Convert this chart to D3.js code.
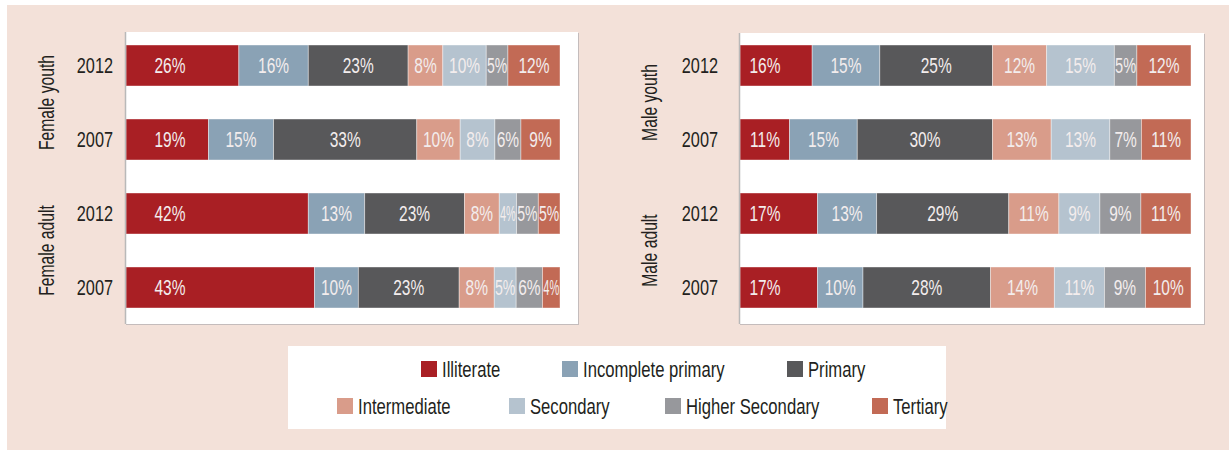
<!DOCTYPE html>
<html>
<head>
<meta charset="utf-8">
<script src="https://cdn.jsdelivr.net/npm/d3@7"></script>
<style>
  html, body { margin: 0; padding: 0; background: #ffffff; }
  svg { display: block; }
  text { font-family: "Liberation Sans", Arial, sans-serif; }
</style>
</head>
<body>
<svg id="chart" width="1229" height="451"></svg>
<script>
// ---------- DATA ----------
const categories = ["Illiterate", "Incomplete primary", "Primary", "Intermediate", "Secondary", "Higher Secondary", "Tertiary"];
const colors = ["#a91f24", "#8aa2b5", "#58585a", "#d99c8a", "#b5c3cf", "#97989c", "#c26a55"];

const years = ["2012", "2007"];
const femaleGroups = ["Female youth", "Female adult"];
const maleGroups = ["Male youth", "Male adult"];

const femaleYouth2012 = [26, 16, 23, 8, 10, 5, 12];
const femaleYouth2007 = [19, 15, 33, 10, 8, 6, 9];
const femaleAdult2012 = [42, 13, 23, 8, 4, 5, 5];
const femaleAdult2007 = [43, 10, 23, 8, 5, 6, 4];

const maleYouth2012 = [16, 15, 25, 12, 15, 5, 12];
const maleYouth2007 = [11, 15, 30, 13, 13, 7, 11];
const maleAdult2012 = [17, 13, 29, 11, 9, 9, 11];
const maleAdult2007 = [17, 10, 28, 14, 11, 9, 10];

// ---------- DRAW ----------
const svg = d3.select("#chart");

function condense(sel, f, maxW) {
  sel.each(function (d) {
    const L = this.getComputedTextLength();
    let w = L * f;
    if (maxW) w = Math.min(w, maxW(d));
    this.setAttribute("textLength", w);
    this.setAttribute("lengthAdjust", "spacingAndGlyphs");
  });
}

// outer pink background
svg.append("rect").attr("x", 7).attr("y", 5).attr("width", 1222).attr("height", 445).attr("fill", "#f3e1d9");

function buildRows(groups, sets) {
  const rows = [];
  groups.forEach((g, gi) => {
    years.forEach((y, yi) => {
      rows.push({ id: g + "|" + y, group: g, year: y, values: sets[gi * 2 + yi] });
    });
  });
  return rows;
}

const femaleRows = buildRows(femaleGroups, [femaleYouth2012, femaleYouth2007, femaleAdult2012, femaleAdult2007]);
const maleRows = buildRows(maleGroups, [maleYouth2012, maleYouth2007, maleAdult2012, maleAdult2007]);

function panel(rows, cfg) {
  const g = svg.append("g");
  // shadow + white panel
  g.append("rect").attr("x", cfg.px0 + 1).attr("y", cfg.py0 + 1).attr("width", cfg.px1 - cfg.px0).attr("height", cfg.py1 - cfg.py0).attr("fill", "#c4bcbc");
  g.append("rect").attr("x", cfg.px0).attr("y", cfg.py0).attr("width", cfg.px1 - cfg.px0).attr("height", cfg.py1 - cfg.py0).attr("fill", "#ffffff");

  const x = d3.scaleLinear().domain([0, 1]).range([cfg.x0, cfg.x1]);
  const y = d3.scaleBand().domain(rows.map(r => r.id)).range([28.5, 324.5]).paddingInner(0.446).paddingOuter(0.223);

  const keys = d3.range(categories.length);
  const stack = d3.stack().keys(keys).value((d, k) => d.values[k]).offset(d3.stackOffsetExpand);
  const series = stack(rows);

  series.forEach((s, si) => {
    const sg = g.append("g");
    sg.selectAll("rect").data(s).join("rect")
      .attr("x", d => x(d[0]))
      .attr("y", d => y(d.data.id))
      .attr("width", d => x(d[1]) - x(d[0]))
      .attr("height", y.bandwidth())
      .attr("fill", colors[si])
      .attr("stroke", "#ffffff")
      .attr("stroke-opacity", 0.5)
      .attr("stroke-width", 0.8);
  });
  series.forEach((s, si) => {
    const sg = g.append("g");
    sg.selectAll("text").data(s).join("text")
      .attr("x", d => si === 0 ? x(0) + cfg.firstLabelOffset : (x(d[0]) + x(d[1])) / 2)
      .attr("y", d => y(d.data.id) + y.bandwidth() / 2)
      .attr("dy", "0.36em")
      .attr("text-anchor", "middle")
      .attr("font-size", 21.5)
      .attr("fill", "#f3eded")
      .text(d => d.data.values[si] + "%")
      .call(condense, 0.72, d => x(d[1]) - x(d[0]) - 1.5);
  });

  // y axis line
  g.append("line").attr("x1", cfg.px0 + 0.5).attr("x2", cfg.px0 + 0.5).attr("y1", cfg.py0).attr("y2", cfg.py1).attr("stroke", "#b9b9b9").attr("stroke-width", 1.5);

  // year labels
  g.selectAll("text.year").data(rows).join("text").attr("class", "year")
    .attr("x", cfg.yearX)
    .attr("y", d => y(d.id) + y.bandwidth() / 2)
    .attr("dy", "0.36em")
    .attr("text-anchor", "end")
    .attr("font-size", 22)
    .attr("fill", "#231f20")
    .text(d => d.year)
    .call(condense, 0.74);

  // group labels
  const groups = Array.from(new Set(rows.map(r => r.group)));
  groups.forEach(gr => {
    const rr = rows.filter(r => r.group === gr);
    const cy = (y(rr[0].id) + y(rr[rr.length - 1].id) + y.bandwidth()) / 2;
    g.append("text")
      .attr("transform", `translate(${cfg.groupX},${cy}) rotate(-90)`)
      .attr("dy", "0.36em")
      .attr("text-anchor", "middle")
      .attr("font-size", 21.5)
      .attr("fill", "#231f20")
      .text(gr)
      .call(condense, 0.73);
  });
}

panel(femaleRows, { px0: 125, px1: 578, py0: 32, py1: 324, x0: 126, x1: 560, yearX: 113, groupX: 46, firstLabelOffset: 44 });
panel(maleRows, { px0: 739, px1: 1204, py0: 33, py1: 324, x0: 740, x1: 1191, yearX: 718, groupX: 649, firstLabelOffset: 25 });

// ---------- LEGEND ----------
const lg = svg.append("g");
lg.append("rect").attr("x", 288).attr("y", 346).attr("width", 658).attr("height", 83).attr("fill", "#ffffff");
const legendRows = [[0, 1, 2], [3, 4, 5, 6]];
const legendX = [[421, 562, 787], [337, 509, 665, 872]];
const legendY = [369, 406];
legendRows.forEach((row, ri) => {
  row.forEach((ci, j) => {
    const item = lg.append("g").attr("transform", `translate(${legendX[ri][j]},${legendY[ri]})`);
    item.append("rect").attr("x", 0).attr("y", -8).attr("width", 16).attr("height", 16).attr("fill", colors[ci]);
    item.append("text").attr("x", 21).attr("y", 0).attr("dy", "0.36em").attr("font-size", 22.5).attr("fill", "#231f20").text(categories[ci]).call(condense, 0.74);
  });
});
</script>
</body>
</html>
